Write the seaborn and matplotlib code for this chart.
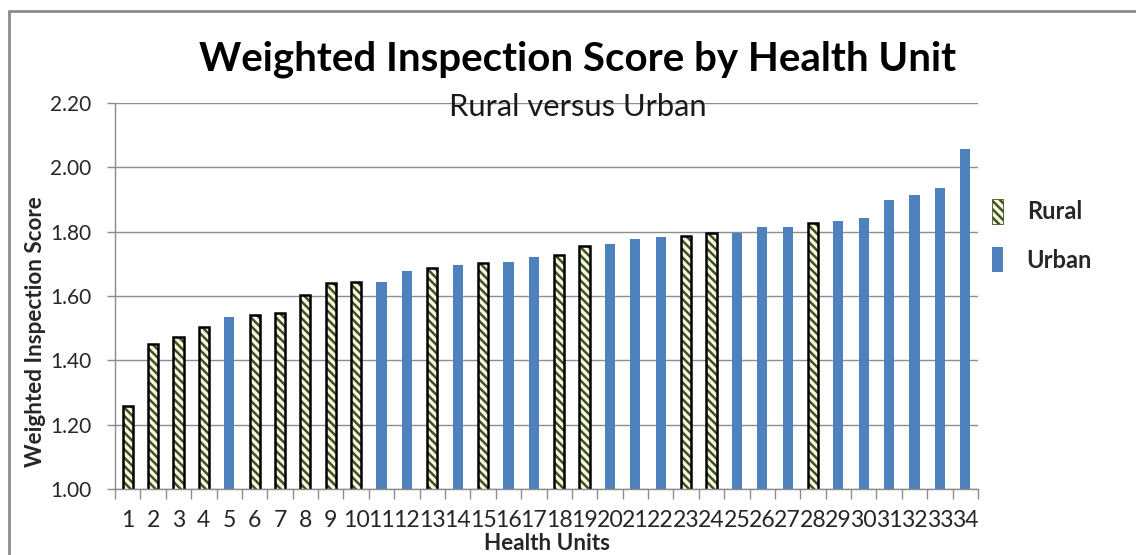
import numpy as np
import pandas as pd
import matplotlib
matplotlib.use("Agg")
import matplotlib.pyplot as plt
import seaborn as sns
from matplotlib.patches import Patch, Rectangle
from matplotlib.lines import Line2D

# ---- data ----
units = [str(i) for i in range(1, 35)]
scores = [1.258, 1.450, 1.472, 1.504, 1.536, 1.540, 1.548, 1.603, 1.640, 1.643,
          1.642, 1.679, 1.687, 1.697, 1.702, 1.705, 1.722, 1.728, 1.754, 1.763,
          1.778, 1.782, 1.786, 1.796, 1.797, 1.814, 1.814, 1.826, 1.832, 1.843,
          1.899, 1.913, 1.935, 2.056]
rural_units = ["1", "2", "3", "4", "6", "7", "8", "9", "10", "13", "15", "18",
               "19", "23", "24", "28"]
unit_type = ["Rural" if u in rural_units else "Urban" for u in units]
y_ticks = [1.00, 1.20, 1.40, 1.60, 1.80, 2.00, 2.20]

title = "Weighted Inspection Score by Health Unit"
subtitle = "Rural versus Urban"
x_label = "Health Units"
y_label = "Weighted Inspection Score"

# ---- style ----
RURAL_FACE = "#f8fae6"
HATCH_COL = "#3f5220"
URBAN_COL = "#4f81bd"
GRID_COL = "#8c8c8c"
FONT = ["Lato", "DejaVu Sans"]
HATCH = "\\\\\\\\"

sns.set_theme(style="white")
plt.rcParams["font.family"] = FONT
plt.rcParams["hatch.color"] = HATCH_COL
plt.rcParams["hatch.linewidth"] = 1.8

df = pd.DataFrame({"unit": units, "score": scores, "type": unit_type})

fig = plt.figure(figsize=(11.36, 5.55), dpi=100)
ax = fig.add_axes([115 / 1136, 1 - 489 / 555, 863 / 1136, 386 / 555])

sns.barplot(data=df, x="unit", y="score", hue="type", order=units,
            hue_order=["Rural", "Urban"], dodge=False, width=0.4,
            palette={"Rural": RURAL_FACE, "Urban": URBAN_COL},
            saturation=1, legend=False, ax=ax, linewidth=0)

rural_rgba = matplotlib.colors.to_rgba(RURAL_FACE)
for p in list(ax.patches):
    if np.allclose(p.get_facecolor(), rural_rgba):
        p.set_edgecolor(HATCH_COL)
        p.set_linewidth(0)
        p.set_hatch(HATCH)
        ax.add_patch(Rectangle(p.get_xy(), p.get_width(), p.get_height(),
                               fill=False, edgecolor="black", linewidth=1.8,
                               zorder=p.get_zorder() + 0.1))

ax.set_ylim(1.0, 2.2)
ax.set_xlim(-0.5, len(units) - 0.5)
ax.set_yticks(y_ticks)
ax.set_yticklabels([f"{v:.2f}" for v in y_ticks])
ax.yaxis.grid(True, color=GRID_COL, linewidth=1.0)
ax.set_axisbelow(True)
for s in ["top", "right"]:
    ax.spines[s].set_visible(False)
for s in ["left", "bottom"]:
    ax.spines[s].set_color(GRID_COL)
    ax.spines[s].set_linewidth(1.0)

ax.tick_params(axis="y", which="major", length=6, width=1, color=GRID_COL,
               direction="out", pad=11, labelsize=15, labelcolor="#262626",
               left=True)
ax.tick_params(axis="x", which="major", length=0, pad=15, labelsize=16.6,
               labelcolor="#262626")
ax.set_xticks(np.arange(-0.5, len(units), 1.0), minor=True)
ax.tick_params(axis="x", which="minor", length=7, width=1, color=GRID_COL,
               direction="out", bottom=True)

ax.set_xlabel(x_label, fontsize=13, fontweight="bold", labelpad=2)
ax.set_ylabel(y_label, fontsize=13, fontweight="bold")
ax.yaxis.label.set_va("center")
ax.yaxis.set_label_coords((36 - 115) / 863, (489 - 332) / 386)
ax.xaxis.label.set_va("center")
ax.xaxis.set_label_coords(0.5, -(544 - 489) / 386)

t1 = fig.text(578 / 1136, 1 - 71 / 555, title, ha="center", va="baseline",
              fontsize=28, fontweight="bold", color="black")
t2 = fig.text(578 / 1136, 1 - 116 / 555, subtitle, ha="center", va="baseline",
              fontsize=18, color="#1a1a1a")

# fit text widths to the reference
fig.canvas.draw()
r = fig.canvas.get_renderer()
for t, w in [(t1, 757), (t2, 257), (ax.xaxis.label, 126), (ax.yaxis.label, 271)]:
    bb = t.get_window_extent(r)
    cur = bb.width if t is not ax.yaxis.label else bb.height
    t.set_fontsize(t.get_fontsize() * w / cur)

# legend
handles = [Patch(facecolor=RURAL_FACE, edgecolor=HATCH_COL, linewidth=0.6,
                 hatch=HATCH),
           Patch(facecolor=URBAN_COL, edgecolor=URBAN_COL, linewidth=0)]
fig.legend(handles, ["Rural", "Urban"], loc="upper left",
           bbox_to_anchor=(992 / 1136, 1 - 199 / 555), frameon=False,
           borderpad=0, borderaxespad=0, handlelength=0.47, handleheight=1.23,
           handletextpad=1.0, labelspacing=1.0,
           prop={"family": FONT, "weight": "bold", "size": 17})

# outer chart border (top and left visible)
fig.add_artist(Line2D([9 / 1136, 9 / 1136], [0, 1 - 11 / 555],
                      transform=fig.transFigure, color="#8c8c8c", linewidth=2))
fig.add_artist(Line2D([9 / 1136, 1], [1 - 11 / 555, 1 - 11 / 555],
                      transform=fig.transFigure, color="#8c8c8c", linewidth=2))

fig.savefig("out.png", dpi=100, facecolor="white")
